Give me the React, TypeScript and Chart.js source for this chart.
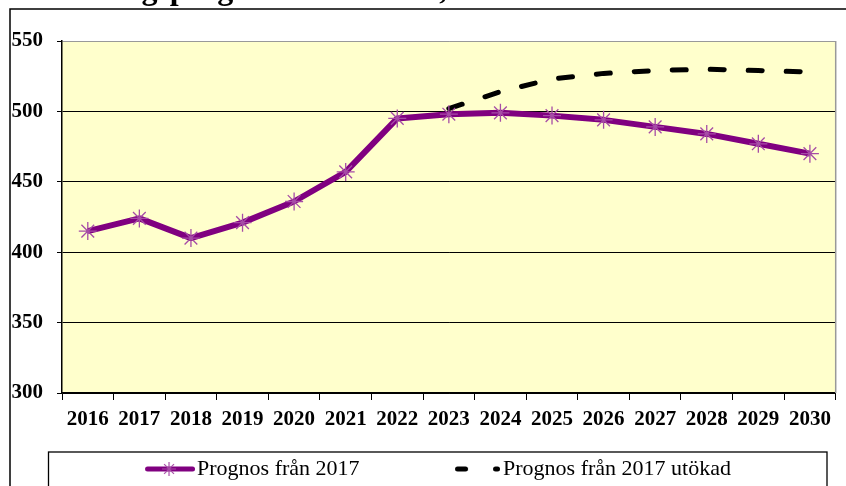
import React, { useEffect, useRef } from "react";
import { Chart, registerables } from "chart.js";

Chart.register(...registerables);

const titleText = "Befolkningsprognos barn 1-5 år, Stocksund";
const years = ["2016", "2017", "2018", "2019", "2020", "2021", "2022", "2023", "2024", "2025", "2026", "2027", "2028", "2029", "2030"];
const prognos2017 = [415, 424, 410, 421, 436, 457, 495, 498, 499, 497, 494, 489, 484, 477, 470];
const prognos2017Utokad = [null, null, null, null, null, null, null, 502, 514, 523, 527, 529, 530, 529, 528];
const seriesLabels = ["Prognos från 2017", "Prognos från 2017 utökad"];
const yMin = 300;
const yMax = 550;
const yStep = 50;

const FONT = "'Liberation Serif', 'Times New Roman', serif";
const PURPLE = "#800080";
const MARKER = "#a64ca6";
// spacing after the first legend entry (Excel-like wide gap between entries)
const LEGEND_GAP = "          ";

function makeLineSample(): HTMLCanvasElement {
  const c = document.createElement("canvas");
  c.width = 84;
  c.height = 24;
  const g = c.getContext("2d")!;
  g.strokeStyle = PURPLE;
  g.lineWidth = 5;
  g.lineCap = "round";
  g.beginPath();
  g.moveTo(36.5, 12);
  g.lineTo(81.5, 12);
  g.stroke();
  g.strokeStyle = MARKER;
  g.lineWidth = 1.2;
  g.lineCap = "butt";
  const cx = 58, cy = 12, r = 7;
  g.beginPath();
  for (let k = 0; k < 4; k++) {
    const a = (k * Math.PI) / 4;
    g.moveTo(cx + r * Math.cos(a), cy + r * Math.sin(a));
    g.lineTo(cx - r * Math.cos(a), cy - r * Math.sin(a));
  }
  g.stroke();
  return c;
}

function makeDashSample(): HTMLCanvasElement {
  const c = document.createElement("canvas");
  c.width = 82;
  c.height = 24;
  const g = c.getContext("2d")!;
  g.strokeStyle = "#000";
  g.lineWidth = 5;
  g.lineCap = "round";
  g.beginPath();
  g.moveTo(39.5, 12);
  g.lineTo(47.5, 12);
  g.moveTo(77.5, 12);
  g.lineTo(79.5, 12);
  g.stroke();
  return c;
}

const framePlugin = {
  id: "excelFrame",
  beforeDraw(chart: any) {
    const { ctx, chartArea: a } = chart;
    ctx.save();
    ctx.fillStyle = "#FFFFCC";
    ctx.fillRect(a.left, a.top, a.right - a.left, a.bottom - a.top);
    ctx.restore();
  },
  afterDraw(chart: any) {
    const { ctx, chartArea: a } = chart;
    ctx.save();
    ctx.strokeStyle = "#999";
    ctx.lineWidth = 1.5;
    ctx.beginPath();
    ctx.moveTo(a.right, a.top);
    ctx.lineTo(a.right, a.bottom);
    ctx.stroke();
    ctx.strokeStyle = "#000";
    ctx.lineWidth = 1.5;
    ctx.strokeRect(10, 41, 1000, 700);
    ctx.lineWidth = 1.3;
    ctx.strokeRect(48.5, 484, 778.5, 100);
    ctx.restore();
  },
};

export default function App() {
  const ref = useRef<HTMLCanvasElement | null>(null);
  useEffect(() => {
    if (!ref.current) return;
    const samples = [makeLineSample(), makeDashSample()];
    const chart = new Chart(ref.current, {
      type: "line",
      data: {
        labels: years,
        datasets: [
          {
            label: seriesLabels[0],
            data: prognos2017,
            borderColor: PURPLE,
            backgroundColor: PURPLE,
            borderWidth: 6,
            borderJoinStyle: "round",
            pointStyle: "star",
            pointRadius: 9,
            pointBorderColor: MARKER,
            pointBorderWidth: 1.3,
            pointBackgroundColor: "transparent",
            tension: 0,
          },
          {
            label: seriesLabels[1],
            data: prognos2017Utokad as any,
            borderColor: "#000",
            backgroundColor: "#000",
            borderWidth: 5,
            borderDash: [14, 24],
            borderCapStyle: "round",
            pointRadius: 0,
            tension: 0,
          },
        ],
      },
      options: {
        responsive: false,
        animation: false,
        devicePixelRatio: 1,
        layout: { padding: { left: 8, right: 3, top: 0, bottom: 8 } },
        plugins: {
          title: {
            display: true,
            text: titleText,
            align: "start",
            color: "#000",
            font: { family: FONT, size: 32, weight: "bold", lineHeight: 1.2 },
            padding: { top: 4, bottom: 30.6 },
          },
          legend: {
            position: "bottom",
            align: "center",
            labels: {
              usePointStyle: true,
              pointStyleWidth: 66,
              padding: 11.5,
              color: "#000",
              font: { family: FONT, size: 22 },
              generateLabels: (c: any) => {
                const items = (Chart.defaults.plugins.legend.labels as any).generateLabels(c);
                items.forEach((it: any, i: number) => {
                  it.pointStyle = samples[i];
                  it.fontColor = "#000";
                  if (i === 0) it.text = it.text + LEGEND_GAP;
                });
                return items;
              },
            },
          },
          tooltip: { enabled: false },
        },
        scales: {
          x: {
            offset: true,
            grid: { offset: true, drawOnChartArea: false, drawTicks: true, tickLength: 7, color: "#000", lineWidth: 1 },
            border: { color: "#000", width: 1.5 },
            ticks: { color: "#000", font: { family: FONT, size: 21, weight: "bold" }, padding: 7, maxRotation: 0, autoSkip: false },
            afterFit: (s: any) => {
              s.height = 53.5;
            },
          },
          y: {
            min: yMin,
            max: yMax,
            ticks: { stepSize: yStep, color: "#000", font: { family: FONT, size: 21, weight: "bold" }, padding: 14 },
            grid: {
              color: (ctx: any) => (ctx.tick && ctx.tick.value === yMax ? "#999" : "#000"),
              tickColor: "#000",
              tickLength: 5,
              lineWidth: 1,
            },
            border: { color: "#000", width: 1.5 },
            afterFit: (s: any) => {
              s.width = 54;
            },
          },
        },
      },
      plugins: [framePlugin],
    });
    return () => chart.destroy();
  }, []);

  return (
    <div style={{ position: "absolute", left: 0, top: 0, width: 846, height: 486, overflow: "hidden", background: "#fff" }}>
      <canvas ref={ref} width={846} height={530} style={{ position: "absolute", left: 0, top: -32, width: 846, height: 530 }} />
    </div>
  );
}
